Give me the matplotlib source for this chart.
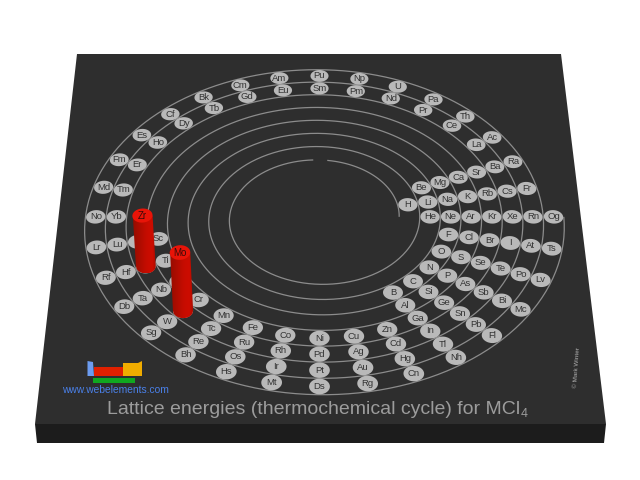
import numpy as np
import matplotlib
matplotlib.use("Agg")
import matplotlib.pyplot as plt
from matplotlib.patches import Polygon

plt.rcParams['font.family'] = ['Liberation Sans', 'DejaVu Sans']

# Periodic table by period: (first column on the 32-column spiral, symbols)
period_1 = [(1, ["H"]), (32, ["He"])]
period_2 = [(1, ["Li", "Be"]), (27, ["B", "C", "N", "O", "F", "Ne"])]
period_3 = [(1, ["Na", "Mg"]), (27, ["Al", "Si", "P", "S", "Cl", "Ar"])]
period_4 = [(1, ["K", "Ca"]), (17, ["Sc", "Ti", "V", "Cr", "Mn", "Fe", "Co", "Ni", "Cu", "Zn",
                                    "Ga", "Ge", "As", "Se", "Br", "Kr"])]
period_5 = [(1, ["Rb", "Sr"]), (17, ["Y", "Zr", "Nb", "Mo", "Tc", "Ru", "Rh", "Pd", "Ag", "Cd",
                                     "In", "Sn", "Sb", "Te", "I", "Xe"])]
period_6 = [(1, ["Cs", "Ba", "La", "Ce", "Pr", "Nd", "Pm", "Sm", "Eu", "Gd", "Tb", "Dy", "Ho", "Er",
                 "Tm", "Yb", "Lu", "Hf", "Ta", "W", "Re", "Os", "Ir", "Pt", "Au", "Hg",
                 "Tl", "Pb", "Bi", "Po", "At", "Rn"])]
period_7 = [(1, ["Fr", "Ra", "Ac", "Th", "Pa", "U", "Np", "Pu", "Am", "Cm", "Bk", "Cf", "Es", "Fm",
                 "Md", "No", "Lr", "Rf", "Db", "Sg", "Bh", "Hs", "Mt", "Ds", "Rg", "Cn",
                 "Nh", "Fl", "Mc", "Lv", "Ts", "Og"])]
periods = [period_1, period_2, period_3, period_4, period_5, period_6, period_7]

# Lattice energies (kJ/mol)
bar_elements = ["Zr", "Mo"]
bar_values = [8200, 9400]

title_text = "Lattice energies (thermochemical cycle) for MCl"
url_text = "www.webelements.com"
credit_text = "\u00a9 Mark Winter"

# Board projection
CX, Y0, A, B, C = 319.5, 223.8, 262.0, 183.7, 0.0826
V0, SY = -0.038, 0.985
R_IN, R_STEP = 0.305, 0.0788
Z_PX, Z_SPREAD = 0.0062, 2.4e-6
CHIP = 0.037


def project(u, v):
    u, v = np.asarray(u, float), np.asarray(v, float)
    w = 1 - C * v
    return CX + A * u / w, Y0 + B * v / w


def board(r, th):
    return r * np.cos(th), V0 - SY * r * np.sin(th)


def disc(u0, v0, rad, n=40):
    t = np.linspace(0, 2 * np.pi, n)
    x, y = project(u0 + rad * np.cos(t), v0 + rad * np.sin(t))
    return np.column_stack([x, y])


fig = plt.figure(figsize=(6.4, 4.8), dpi=100, facecolor="white")
ax = fig.add_axes([0, 0, 1, 1])
ax.set_xlim(0, 640)
ax.set_ylim(480, 0)
ax.axis("off")

# Board
ax.add_patch(Polygon([(35, 424), (606, 424), (604, 443), (37, 443)], fc="#1c1c1c", ec="none", zorder=1))
ax.add_patch(Polygon([(77, 54), (561, 54), (606, 424), (35, 424)], fc="#2e2e2e", ec="none", zorder=1))

# Spiral (8 turns starting on the row of noble gases)
t1 = np.linspace(0, 0.235, 100)
t2 = np.linspace(0.262, 8, 2400)
for t in (t1, t2):
    u, v = board(R_IN + R_STEP * t, 2 * np.pi * t)
    x, y = project(u, v)
    ax.plot(x, y, color="#8c8c8c", lw=0.9, zorder=2, solid_capstyle="butt")

# Elements
lookup = {}
for p, groups in enumerate(periods, start=1):
    for first, symbols in groups:
        for k, sym in enumerate(symbols):
            col = first + k
            r = R_IN + R_STEP * (p - 1 + col / 32) + R_STEP / 2
            u, v = board(r, 2 * np.pi * col / 32)
            lookup[sym] = (float(u), float(v))
            ax.add_patch(Polygon(disc(u, v, CHIP), fc="#b9b9b9", ec="none", zorder=3))
            x, y = project(u, v)
            ax.text(x, y, sym, ha="center", va="center", fontsize=6.8, color="#333333", zorder=4)

# Bars
shade_x = [-1.0, -0.5, 0.2, 0.7, 1.0]
shade_r = [150, 170, 198, 205, 170]
grad_x = np.linspace(-1, 1, 64)
grad = np.zeros((1, 64, 3))
grad[0, :, 0] = np.interp(grad_x, shade_x, shade_r) / 255
grad[0, :, 1] = 0.05
for i, (sym, val) in enumerate(zip(bar_elements, bar_values)):
    u, v = lookup[sym]
    base = disc(u, v, CHIP)
    top = base.copy()
    top[:, 0] = CX + (base[:, 0] - CX) * (1 + val * Z_SPREAD)
    top[:, 1] = base[:, 1] - val * Z_PX
    bx, by = project(u, v)
    tx, ty = top[:, 0].mean(), top[:, 1].mean()
    hb = (base[:, 0].max() - base[:, 0].min()) / 2
    ry = (base[:, 1].max() - base[:, 1].min()) / 2
    arc = np.linspace(-1, 1, 30)
    outline = np.vstack([
        np.column_stack([bx + hb * arc, by + ry * np.sqrt(1 - arc ** 2)]),
        np.column_stack([tx + hb * arc[::-1], np.full(30, ty)]),
    ])
    clip = Polygon(outline, transform=ax.transData, fc="none", ec="none")
    ax.add_patch(clip)
    im = ax.imshow(grad, extent=(min(bx, tx) - hb, max(bx, tx) + hb, by + ry, ty), aspect="auto",
                   interpolation="bilinear", zorder=5 + 3 * i)
    im.set_clip_path(clip)
    ax.add_patch(Polygon(top, fc="#e81408", ec="none", zorder=6 + 3 * i))
    ax.text(tx, ty, sym, ha="center", va="center", fontsize=7, color="#3a0a08", zorder=7 + 3 * i)
ax.set_xlim(0, 640)
ax.set_ylim(480, 0)

# Logo
ax.add_patch(Polygon([(87.5, 361), (93, 362), (94, 376), (87.5, 376)], fc="#6c9cf0", ec="none", zorder=3))
ax.add_patch(Polygon([(94, 367), (123, 367), (123, 376), (94, 376)], fc="#e02000", ec="none", zorder=3))
ax.add_patch(Polygon([(123, 363), (138, 363), (142, 361), (142, 376), (123, 376)], fc="#f0ac00", ec="none", zorder=3))
ax.add_patch(Polygon([(93, 378), (135, 378), (135, 383), (93, 383)], fc="#10a820", ec="none", zorder=3))
ax.text(115, 390, url_text, ha="center", va="center", fontsize=7.4, color="#4a80e8", zorder=3)

# Title
tt = ax.text(107, 409, title_text, ha="left", va="center", fontsize=14, color="#9c9c9c", zorder=3)
fig.canvas.draw()
bb = tt.get_window_extent()
ax.text(bb.x1 + 0.5, 414, "4", ha="left", va="center", fontsize=9, color="#9c9c9c", zorder=3)

ax.text(577, 368, credit_text, rotation=86, ha="center", va="center", fontsize=4.6, color="#b0b0b0", zorder=3)

fig.savefig("out.png", dpi=100, facecolor="white")
